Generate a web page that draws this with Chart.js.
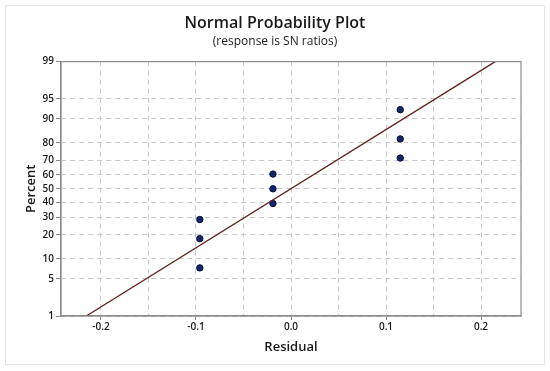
<!DOCTYPE html>
<html>
<head>
<meta charset="utf-8">
<script src="https://cdn.jsdelivr.net/npm/chart.js@4/dist/chart.umd.min.js"></script>
<style>
  html, body { margin: 0; padding: 0; background: #fff; }
  #wrap { width: 550px; height: 371px; }
</style>
</head>
<body>
<div id="wrap"><canvas id="probChart" width="550" height="371"></canvas></div>
<script>
// residuals and their plotting positions (percent)
const residuals = [-0.096, -0.096, -0.096, -0.019, -0.019, -0.019, 0.115, 0.115, 0.115];
const percents = [7.4, 18.1, 28.7, 39.4, 50, 60.6, 71.3, 81.9, 92.6];

// fitted normal line (end points)
const fitX = [-0.2155, 0.215];
const fitP = [1, 99];

// axis ticks
const percentTicks = [1, 5, 10, 20, 30, 40, 50, 60, 70, 80, 90, 95, 99];
const xTicks = [-0.2, -0.15, -0.1, -0.05, 0, 0.05, 0.1, 0.15, 0.2];
const xTickLabels = ["-0.2", "", "-0.1", "", "0.0", "", "0.1", "", "0.2"];

// inverse normal cdf (Acklam) - used for the probability scale
function probit(p) {
  const a = [-3.969683028665376e+01, 2.209460984245205e+02, -2.759285104469687e+02, 1.383577518672690e+02, -3.066479806614716e+01, 2.506628277459239e+00];
  const b = [-5.447609879822406e+01, 1.615858368580409e+02, -1.556989798598866e+02, 6.680131188771972e+01, -1.328068155288572e+01];
  const c = [-7.784894002430293e-03, -3.223964580411365e-01, -2.400758277161838e+00, -2.549732539343734e+00, 4.374664141464968e+00, 2.938163982698783e+00];
  const d = [7.784695709041462e-03, 3.224671290700398e-01, 2.445134137142996e+00, 3.754408661907416e+00];
  const pl = 0.02425;
  let q, r;
  if (p < pl) {
    q = Math.sqrt(-2 * Math.log(p));
    return (((((c[0]*q+c[1])*q+c[2])*q+c[3])*q+c[4])*q+c[5]) / ((((d[0]*q+d[1])*q+d[2])*q+d[3])*q+1);
  }
  if (p > 1 - pl) {
    q = Math.sqrt(-2 * Math.log(1 - p));
    return -(((((c[0]*q+c[1])*q+c[2])*q+c[3])*q+c[4])*q+c[5]) / ((((d[0]*q+d[1])*q+d[2])*q+d[3])*q+1);
  }
  q = p - 0.5;
  r = q * q;
  return (((((a[0]*r+a[1])*r+a[2])*r+a[3])*r+a[4])*r+a[5])*q / (((((b[0]*r+b[1])*r+b[2])*r+b[3])*r+b[4])*r+1);
}

const font = "'Open Sans', 'DejaVu Sans', sans-serif";

// frame round the figure + box round the plot area
const framePlugin = {
  id: "frames",
  beforeDraw(chart) {
    const ctx = chart.ctx;
    ctx.save();
    ctx.fillStyle = "#fff";
    ctx.fillRect(0, 0, chart.width, chart.height);
    ctx.strokeStyle = "#e4e4e4";
    ctx.lineWidth = 1;
    ctx.strokeRect(5.5, 5.5, 539, 359);
    ctx.restore();
  },
  afterDraw(chart) {
    const a = chart.chartArea;
    const ctx = chart.ctx;
    ctx.save();
    ctx.strokeStyle = "#8c8c8c";
    ctx.lineWidth = 1.2;
    ctx.strokeRect(a.left, a.top, a.right - a.left, a.bottom - a.top);
    ctx.restore();
  }
};

new Chart(document.getElementById("probChart"), {
  type: "scatter",
  data: {
    datasets: [
      {
        label: "Fit",
        type: "line",
        data: fitX.map((x, i) => ({ x: x, y: probit(fitP[i] / 100) })),
        borderColor: "#642323",
        borderWidth: 1.3,
        pointRadius: 0,
        fill: false
      },
      {
        label: "Residuals",
        data: residuals.map((x, i) => ({ x: x, y: probit(percents[i] / 100) })),
        backgroundColor: "#15256b",
        borderColor: "#050d3a",
        borderWidth: 1,
        pointRadius: 3.2
      }
    ]
  },
  options: {
    responsive: false,
    animation: false,
    layout: { padding: 0 },
    plugins: {
      legend: { display: false },
      tooltip: { enabled: false },
      title: {
        display: true,
        text: "Normal Probability Plot",
        color: "#1a1a1a",
        font: { family: font, size: 16, weight: "600" },
        padding: { top: 14, bottom: 1 }
      },
      subtitle: {
        display: true,
        text: "(response is SN ratios)",
        color: "#1a1a1a",
        font: { family: font, size: 12, weight: "normal" },
        padding: { top: 0, bottom: 13 }
      }
    },
    scales: {
      x: {
        type: "linear",
        min: -0.2421,
        max: 0.2421,
        afterFit: s => { s.height = 55; },
        afterBuildTicks: s => { s.ticks = xTicks.map(v => ({ value: v })); },
        ticks: {
          callback: (v, i) => xTickLabels[i],
          color: "#1a1a1a",
          font: { family: font, size: 10, weight: "600" },
          padding: 1,
          maxRotation: 0,
          autoSkip: false
        },
        grid: {
          color: "#c9c9c9",
          tickLength: 4,
          tickColor: c => xTickLabels[c.index] ? "#8c8c8c" : "rgba(0,0,0,0)"
        },
        border: { color: "#8c8c8c", width: 1.2, dash: [5, 4] },
        title: {
          display: true,
          text: "Residual",
          color: "#1a1a1a",
          font: { family: font, size: 13, weight: "600" },
          padding: 16
        }
      },
      y: {
        type: "linear",
        min: probit(0.01),
        max: probit(0.99),
        afterFit: s => { s.width = 61; },
        afterBuildTicks: s => { s.ticks = percentTicks.map(p => ({ value: probit(p / 100) })); },
        ticks: {
          callback: (v, i) => String(percentTicks[i]),
          color: "#1a1a1a",
          font: { family: font, size: 10, weight: "600" },
          padding: 2,
          autoSkip: false
        },
        grid: {
          color: "#c9c9c9",
          tickLength: 5,
          tickColor: "#8c8c8c"
        },
        border: { color: "#8c8c8c", width: 1.2, dash: [5, 4] },
        title: {
          display: true,
          text: "Percent",
          color: "#1a1a1a",
          font: { family: font, size: 13, weight: "600" },
          padding: 23
        }
      },
      yRight: {
        position: "right",
        display: true,
        afterFit: s => { s.width = 29; },
        ticks: { display: false },
        grid: { display: false, drawTicks: false },
        border: { display: false }
      }
    }
  },
  plugins: [framePlugin]
});
</script>
</body>
</html>
